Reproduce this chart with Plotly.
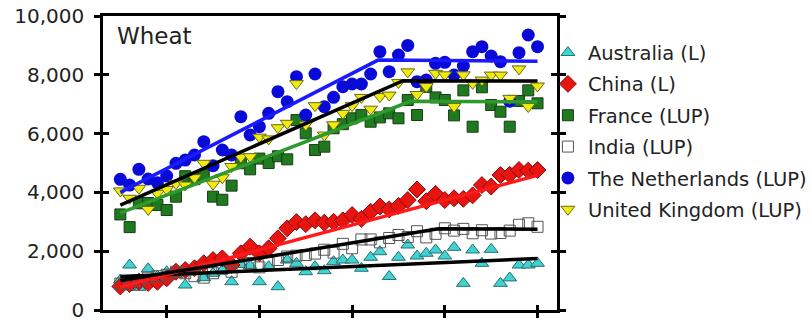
import plotly.graph_objects as go

years = list(range(1965, 2011))

australia = [1020, 1530, 771, 1400, 1150, 1300, 1200, 850, 1300, 1100,
             1250, 1350, 963, 1550, 1500, 963, 1473, 793, 1700, 1587,
             1303, 1473, 1337, 1643, 1700, 1700, 1420, 1793, 1983, 1140,
             1793, 2211, 1837, 1930, 2041, 1837, 2132, 907, 2041, 1587,
             2063, 907, 1090, 1530, 1530, 1587]
china = [800, 880, 960, 920, 960, 1077, 1300, 1360, 1420, 1590,
         1700, 1757, 1530, 1928, 2153, 1928, 2098, 2438, 2778, 2990,
         2920, 3050, 2970, 3000, 3050, 3230, 3100, 3340, 3520, 3420,
         3540, 3740, 4100, 3700, 3950, 3740, 3800, 3780, 3900, 4250,
         4200, 4590, 4600, 4762, 4740, 4762]
france = [3250, 2820, 3630, 3640, 3570, 3400, 3855, 4550, 4450, 4590,
          3855, 3750, 4230, 4990, 4785, 5150, 5000, 5230, 5125, 6460,
          6010, 5440, 5555, 6180, 6320, 6520, 6630, 6405, 6550, 6690,
          6520, 7143, 6633, 7590, 7230, 7143, 6620, 7470, 6235, 7574,
          6973, 6745, 6235, 7110, 7470, 7030]
india = [900, 870, 1000, 1100, 1150, 1200, 1300, 1250, 1150, 1100,
         1250, 1400, 1300, 1500, 1600, 1450, 1600, 1700, 1820, 1850,
         1870, 1920, 2050, 1950, 2250, 2100, 2400, 2400, 2300, 2450,
         2550, 2480, 2680, 2470, 2590, 2780, 2700, 2760, 2610, 2713,
         2600, 2620, 2700, 2900, 2950, 2830]
netherlands = [4445, 4250, 4785, 4455, 4330, 4558, 4990, 5100, 5272, 5725,
               4908, 5442, 5272, 6575, 5952, 6235, 6690, 7425, 7085, 7935,
               6633, 8027, 6915, 7234, 7595, 7687, 7687, 8027, 8786, 8105,
               8673, 9000, 7765, 7823, 8390, 8425, 7993, 8300, 8786, 8957,
               8639, 8446, 7100, 8752, 9354, 8957]
uk = [4050, 3800, 4140, 3420, 3970, 4100, 4300, 4250, 4500, 4990,
      4280, 4500, 4880, 5200, 5215, 5880, 5820, 6200, 6350, 7700,
      6300, 6950, 5950, 6300, 6690, 6950, 7230, 6830, 7260, 7310,
      7740, 8100, 7330, 7600, 8050, 8000, 6920, 8000, 7710, 7820,
      7990, 7990, 7200, 8200, 6920, 7620]

# fitted trend lines (linear, or linear-upper-plateau)
fit_australia_x = [1965, 2010]
fit_australia_y = [1140, 1750]
fit_china_x = [1965, 2010]
fit_china_y = [780, 4580]
fit_france_x = [1965, 1996.3, 2010]
fit_france_y = [3300, 7100, 7080]
fit_india_x = [1965, 1999.3, 2010]
fit_india_y = [1000, 2760, 2750]
fit_netherlands_x = [1965, 1992.8, 2010]
fit_netherlands_y = [4000, 8500, 8460]
fit_uk_x = [1965, 1995.5, 2010]
fit_uk_y = [3570, 7800, 7790]

x_ticks = [1970, 1980, 1990, 2000, 2010]
y_ticks = [0, 2000, 4000, 6000, 8000, 10000]

series = [
    ("Australia (L)", australia, dict(symbol="triangle-up", size=12, color="#3fd3d3",
                                      line=dict(color="#2a6f6f", width=1))),
    ("China (L)", china, dict(symbol="diamond", size=13, color="#e8140f",
                              line=dict(color="#8a0a0a", width=1))),
    ("France (LUP)", france, dict(symbol="square", size=11, color="#1f7a1f",
                                  line=dict(color="#1a3a1a", width=1))),
    ("India (LUP)", india, dict(symbol="square-open", size=11, color="#555555",
                                line=dict(width=1))),
    ("The Netherlands (LUP)", netherlands, dict(symbol="circle", size=13, color="#0a0ad8",
                                                line=dict(color="#0a0ad8", width=0))),
    ("United Kingdom (LUP)", uk, dict(symbol="triangle-down", size=12, color="#f0ea10",
                                      line=dict(color="#6a6a10", width=1))),
]

fig = go.Figure()
for name, vals, mk in series:
    fig.add_trace(go.Scatter(x=years, y=vals, mode="markers", name=name, marker=mk,
                             legendgroup=name))

fits = [
    (fit_australia_x, fit_australia_y, "#000000"),
    (fit_china_x, fit_china_y, "#ff1a1a"),
    (fit_france_x, fit_france_y, "#2e9a2e"),
    (fit_india_x, fit_india_y, "#000000"),
    (fit_netherlands_x, fit_netherlands_y, "#1a1aff"),
    (fit_uk_x, fit_uk_y, "#000000"),
]
for fx, fy, col in fits:
    fig.add_trace(go.Scatter(x=fx, y=fy, mode="lines", showlegend=False,
                             line=dict(color=col, width=3.5), hoverinfo="skip"))

# invisible trace on overlay axes (used for the inward half of the ticks)
fig.add_trace(go.Scatter(x=[None], y=[None], xaxis="x2", yaxis="y2", showlegend=False))

xr = [1963.13, 2012.1]
yr = [0, 10000]
font_fam = "DejaVu Sans"

fig.update_layout(
    width=811, height=321,
    margin=dict(l=103, r=254, t=16, b=11, pad=0, autoexpand=False),
    paper_bgcolor="white", plot_bgcolor="white",
    showlegend=True,
    legend=dict(x=0.98, xanchor="left", y=0.941, yanchor="top",
                font=dict(family=font_fam, size=19.5, color="#222222"),
                bgcolor="rgba(0,0,0,0)", tracegroupgap=3, borderwidth=0),
    xaxis=dict(range=xr, showgrid=False, zeroline=False, showline=True,
               linecolor="black", linewidth=2.5, mirror=True, layer="above traces",
               ticks="outside", ticklen=5, tickwidth=2.5, tickcolor="black",
               tickvals=x_ticks, showticklabels=False, automargin=False),
    yaxis=dict(range=yr, showgrid=False, zeroline=False, showline=True,
               linecolor="black", linewidth=2.5, mirror="ticks",
               ticks="outside", ticklen=6, tickwidth=2.5, tickcolor="black",
               tickvals=y_ticks, tickformat=",d", automargin=False,
               ticklabeloverflow="allow",
               tickfont=dict(family=font_fam, size=20, color="#222222"),
               ticklabelstandoff=6),
    xaxis2=dict(range=xr, overlaying="x", anchor="y", side="bottom", showgrid=False,
                zeroline=False, showline=False, ticks="inside", ticklen=5, tickwidth=2.5,
                tickcolor="black", tickvals=x_ticks, showticklabels=False, automargin=False),
    yaxis2=dict(range=yr, overlaying="y", anchor="x", side="left", showgrid=False,
                zeroline=False, showline=True, linecolor="black", linewidth=2.5,
                mirror="ticks", ticks="inside", ticklen=6, tickwidth=2.5,
                tickcolor="black", tickvals=y_ticks, showticklabels=False, automargin=False),
    annotations=[dict(text="Wheat", xref="paper", yref="paper", x=0.027, y=0.983,
                      xanchor="left", yanchor="top", showarrow=False,
                      font=dict(family=font_fam, size=23, color="#222222"))],
)

fig.write_html("out.html")
